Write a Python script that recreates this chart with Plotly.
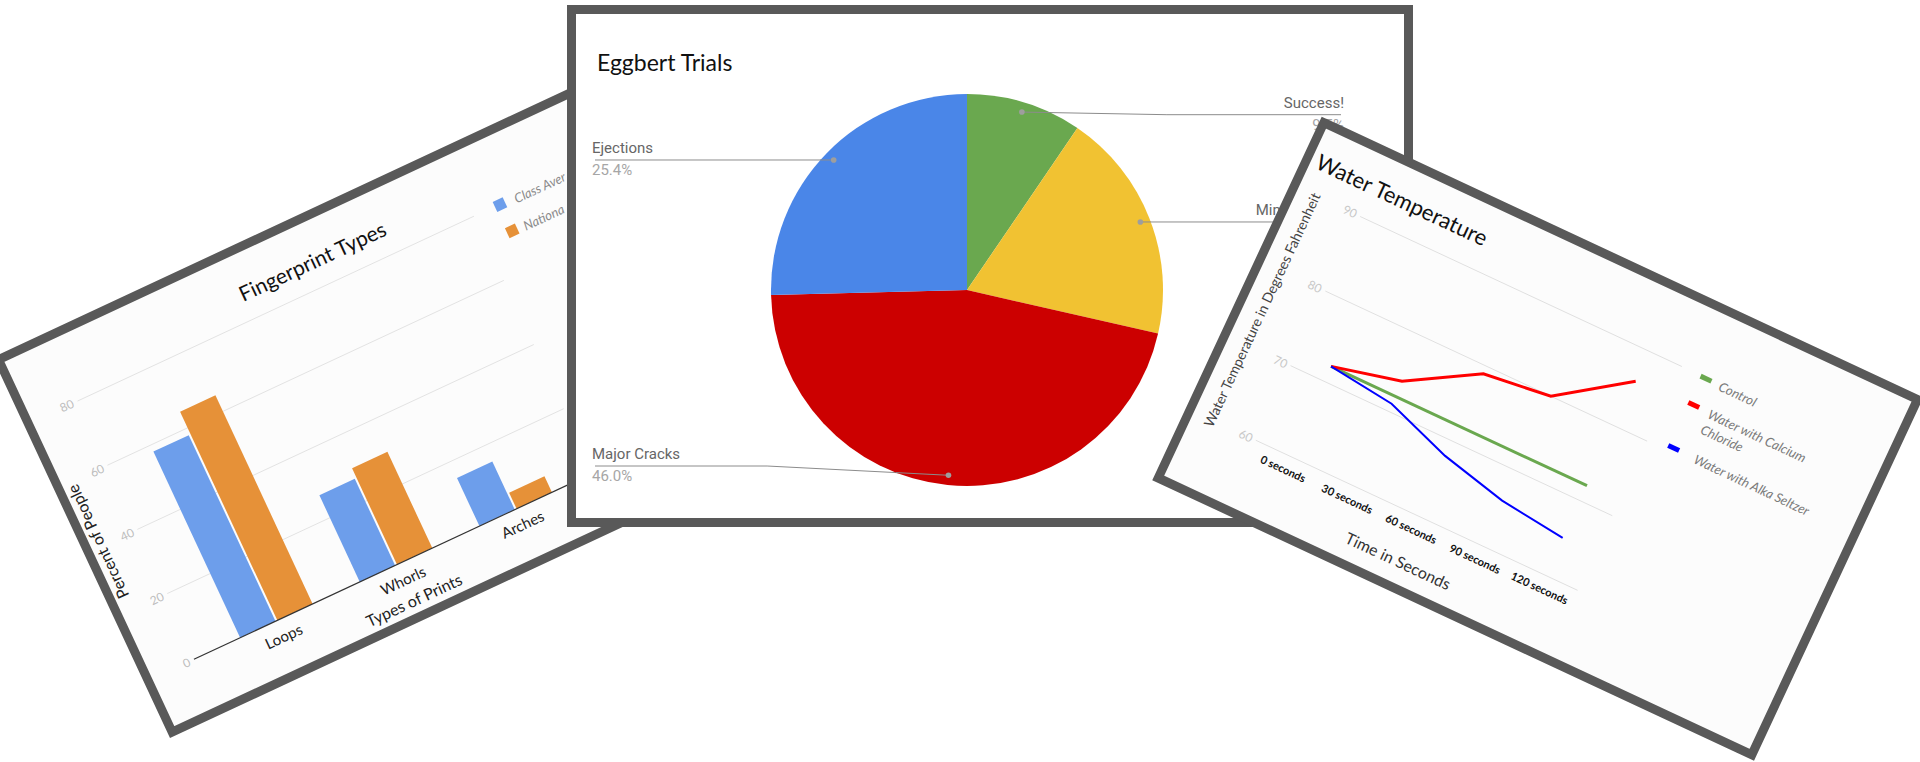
import math
import plotly.graph_objects as go

FIG_W, FIG_H = 1920, 762
COMIC = "Comic Sans MS, Lato, sans-serif"
ROBOTO = "Roboto, sans-serif"

# ---------------- data ----------------
PIE_TITLE = "Eggbert Trials"
PIE_LABELS = ["Success!", "Minor Cracks", "Major Cracks", "Ejections"]
PIE_VALUES = [6, 12, 29, 16]
PIE_COLORS = ["#6aa84f", "#f1c232", "#cc0000", "#4a86e8"]

BAR_TITLE = "Fingerprint Types"
BAR_CATEGORIES = ["Loops", "Whorls", "Arches"]
BAR_SERIES = ["Class Average", "National Average"]
CLASS_AVG = [58, 27, 15]
NATIONAL_AVG = [65, 30, 5]
BAR_COLORS = ["#6d9eeb", "#e69138"]
BAR_TICKS = [0, 20, 40, 60, 80]
BAR_XTITLE = "Types of Prints"
BAR_YTITLE = "Percent of People"

LINE_TITLE = "Water Temperature"
LINE_CATEGORIES = ["0 seconds", "30 seconds", "60 seconds", "90 seconds", "120 seconds"]
CONTROL = [72, 72, 72, 72, 72]
CALCIUM = [72, 74, 79, 80, 86]
ALKA = [72, 71, 68, 66, 65]
LINE_SERIES = ["Control", "Water with Calcium Chloride", "Water with Alka Seltzer"]
LINE_LEGEND_TEXT = ["Control", "Water with Calcium<br>Chloride", "Water with Alka Seltzer"]
LINE_COLORS = ["#6aa84f", "#ff0000", "#0000ff"]
LINE_WIDTHS = [3, 3, 2]
LINE_TICKS = [60, 70, 80, 90]
LINE_XTITLE = "Time in Seconds"
LINE_YTITLE = "Water Temperature in Degrees Fahrenheit"


# ---------------- card geometry (rotated frames) ----------------
class Card:
    def __init__(self, ox, oy, angle, w, h):
        a = math.radians(angle)
        self.ox, self.oy, self.angle, self.w, self.h = ox, oy, angle, w, h
        self.ux, self.uy = math.cos(a), math.sin(a)
        self.vx, self.vy = -math.sin(a), math.cos(a)

    def pt(self, u, v):
        return (self.ox + u * self.ux + v * self.vx, self.oy + u * self.uy + v * self.vy)

    def poly(self, pts):
        out = [self.pt(u, v) for u, v in pts]
        return [p[0] for p in out], [p[1] for p in out]


LEFT = Card(-7.5, 357.4, -25, 662, 420)
CENTER = Card(567, 5, 0, 846, 522)
RIGHT = Card(1321.7, 116.7, 25, 664, 401)

BORDER = "#595959"
BORDER_W = 9

traces, shapes, annotations = [], [], []


def card_frame(card, bg):
    i = BORDER_W / 2
    pts = [(i, i), (card.w - i, i), (card.w - i, card.h - i), (i, card.h - i), (i, i), (card.w - i, i)]
    xs, ys = card.poly(pts)
    traces.append(go.Scatter(x=xs, y=ys, mode="lines", fill="toself", fillcolor=bg,
                             line=dict(color=BORDER, width=BORDER_W), hoverinfo="skip"))


def rtext(card, u, v, text, size, color, extra=0, family=COMIC):
    x, y = card.pt(u, v)
    annotations.append(dict(x=x, y=y, xref="x", yref="y", text=text, showarrow=False,
                            textangle=card.angle + extra, xanchor="center", yanchor="middle",
                            font=dict(size=size, color=color, family=family)))


def polyline(card, pts, color, width):
    xs, ys = card.poly(pts)
    traces.append(go.Scatter(x=xs, y=ys, mode="lines", line=dict(color=color, width=width),
                             hoverinfo="skip"))


# ---------------- left card: bar chart ----------------
BAR_V0, BAR_PX = 358.7, 3.54
GRID_U0, GRID_U1 = 58.6, 496


def bar_v(val):
    return BAR_V0 - val * BAR_PX


def bar_u(i):
    return 146 + 132 * i


card_frame(LEFT, "#fcfcfc")
gx, gy = [], []
for t in BAR_TICKS[1:]:
    xs, ys = LEFT.poly([(GRID_U0, bar_v(t)), (GRID_U1, bar_v(t))])
    gx += xs + [None]
    gy += ys + [None]
traces.append(go.Scatter(x=gx, y=gy, mode="lines", line=dict(color="#e3e3e3", width=1), hoverinfo="skip"))

for k, vals in enumerate([CLASS_AVG, NATIONAL_AVG]):
    for i, val in enumerate(vals):
        c = bar_u(i)
        u0, u1 = (c - 40, c - 1) if k == 0 else (c + 1, c + 40)
        xs, ys = LEFT.poly([(u0, bar_v(0)), (u1, bar_v(0)), (u1, bar_v(val)), (u0, bar_v(val)), (u0, bar_v(0))])
        traces.append(go.Scatter(x=xs, y=ys, mode="lines", fill="toself", fillcolor=BAR_COLORS[k],
                                 line=dict(width=0, color=BAR_COLORS[k]), hoverinfo="skip"))

polyline(LEFT, [(55, bar_v(0)), (GRID_U1, bar_v(0))], "#333333", 1.2)

for t in BAR_TICKS:
    rtext(LEFT, 47, bar_v(t), str(t), 12, "#bdbdbd")
for i, cat in enumerate(BAR_CATEGORIES):
    rtext(LEFT, bar_u(i), 375.5, cat, 15, "#222222")
rtext(LEFT, 280, 398, BAR_XTITLE, 16, "#222222")
rtext(LEFT, 17, 212, BAR_YTITLE, 16, "#222222", extra=-90)
rtext(LEFT, 331, 47, BAR_TITLE, 21, "#111111")

# legend (partly hidden behind the centre card)
LEG_U, LEG_TXT_U = 524.5, 537
CENTER_LEFT_X = CENTER.ox
CHAR_W = 6.0
for k, (name, vpos) in enumerate(zip(BAR_SERIES, [76, 105])):
    s = 5.5
    xs, ys = LEFT.poly([(LEG_U - s, vpos - s), (LEG_U + s, vpos - s), (LEG_U + s, vpos + s), (LEG_U - s, vpos + s), (LEG_U - s, vpos - s)])
    traces.append(go.Scatter(x=xs, y=ys, mode="lines", fill="toself", fillcolor=BAR_COLORS[k],
                             line=dict(width=0, color=BAR_COLORS[k]), hoverinfo="skip"))
    sx, _ = LEFT.pt(LEG_TXT_U, vpos)
    avail = (CENTER_LEFT_X - sx) / LEFT.ux
    nchar = max(1, int(avail / CHAR_W))
    shown = name[:nchar].rstrip()
    wtxt = len(shown) * 6.3
    rtext(LEFT, LEG_TXT_U + wtxt / 2, vpos + 1, "<i>" + shown + "</i>", 13, "#8a8a8a")

# ---------------- centre card: pie ----------------
card_frame(CENTER, "#ffffff")
PIE_CX, PIE_CY, PIE_R = 967, 290, 196
LABEL_LEFT_X, LABEL_RIGHT_X = 595, 1341
LINE_Y_MIN, LINE_Y_MAX = 114.7, 466

total = sum(PIE_VALUES)
cum = 0
for lab, val in zip(PIE_LABELS, PIE_VALUES):
    mid = math.radians((cum + val / 2) / total * 360)
    cum += val
    dxn, dyn = math.sin(mid), -math.cos(mid)
    dot = (PIE_CX + 0.95 * PIE_R * dxn, PIE_CY + 0.95 * PIE_R * dyn)
    right = dxn > 0
    ly = min(max(dot[1], LINE_Y_MIN), LINE_Y_MAX)
    bend_x = PIE_CX + (1.02 * PIE_R if right else -1.02 * PIE_R)
    end_x = LABEL_RIGHT_X if right else LABEL_LEFT_X
    traces.append(go.Scatter(x=[end_x, bend_x, dot[0]], y=[ly, ly, dot[1]], mode="lines",
                             line=dict(color="#8c8c8c", width=1), hoverinfo="skip"))
    lo, hi = 0.0, 1.0
    for _ in range(40):
        m = (lo + hi) / 2
        px = bend_x + m * (dot[0] - bend_x)
        py = ly + m * (dot[1] - ly)
        if math.hypot(px - PIE_CX, py - PIE_CY) > PIE_R:
            lo = m
        else:
            hi = m
    rx = bend_x + lo * (dot[0] - bend_x)
    ry = ly + lo * (dot[1] - ly)
    shapes.append(dict(type="line", xref="x", yref="y", x0=rx, y0=ry, x1=dot[0], y1=dot[1],
                       layer="above", line=dict(color="#8c8c8c", width=1)))
    shapes.append(dict(type="circle", xref="x", yref="y", x0=dot[0] - 2.8, x1=dot[0] + 2.8,
                       y0=dot[1] - 2.8, y1=dot[1] + 2.8, layer="above",
                       fillcolor="#9e9e9e", line=dict(width=0)))
    pos = "middle left" if right else "middle right"
    tx = end_x + (3 if right else -3)
    traces.append(go.Scatter(x=[tx], y=[ly - 10.5], mode="text", text=[lab], textposition=pos,
                             textfont=dict(family=ROBOTO, size=15, color="#666666"), hoverinfo="skip"))
    traces.append(go.Scatter(x=[tx], y=[ly + 11.7], mode="text", text=[f"{val / total * 100:.1f}%"],
                             textposition=pos,
                             textfont=dict(family=ROBOTO, size=15, color="#a6a6a6"), hoverinfo="skip"))

annotations.append(dict(x=595, y=62, xref="x", yref="y", text=PIE_TITLE, showarrow=False,
                        xanchor="left", yanchor="middle",
                        font=dict(size=23, color="#111111", family=COMIC)))

# ---------------- right card: line chart ----------------
LV60, LPX = 321.1, 8.23
LGRID_U0, LGRID_U1 = 77, 432


def line_v(val):
    return LV60 - (val - LINE_TICKS[0]) * LPX


def line_u(i):
    return 114 + 70.6 * i


card_frame(RIGHT, "#fcfcfc")
gx, gy = [], []
for t in LINE_TICKS:
    xs, ys = RIGHT.poly([(LGRID_U0, line_v(t)), (LGRID_U1, line_v(t))])
    gx += xs + [None]
    gy += ys + [None]
traces.append(go.Scatter(x=gx, y=gy, mode="lines", line=dict(color="#e0e0e0", width=1), hoverinfo="skip"))

for vals, color, w in zip([CONTROL, CALCIUM, ALKA], LINE_COLORS, LINE_WIDTHS):
    xs, ys = RIGHT.poly([(line_u(i), line_v(v)) for i, v in enumerate(vals)])
    traces.append(go.Scatter(x=xs, y=ys, mode="lines", line=dict(color=color, width=w), hoverinfo="skip"))

for t in LINE_TICKS:
    rtext(RIGHT, 66, line_v(t), str(t), 12, "#c8c8c8")
for i, cat in enumerate(LINE_CATEGORIES):
    rtext(RIGHT, line_u(i), 335, "<b>" + cat + "</b>", 11, "#111111")
rtext(RIGHT, 257, 370, LINE_XTITLE, 16, "#333333")
rtext(RIGHT, 27, 200, LINE_YTITLE, 14, "#444444", extra=-90)
rtext(RIGHT, 108, 41, LINE_TITLE, 22, "#111111")

LLEG_U0, LLEG_U1, LLEG_TXT_U = 453, 465, 472
for color, txt, vpos in zip(LINE_COLORS, LINE_LEGEND_TEXT, [75, 114, 151.5]):
    mv = vpos if "<br>" not in txt else vpos - 10
    polyline(RIGHT, [(LLEG_U0, mv), (LLEG_U1, mv)], color, 5)
    longest = max(len(p) for p in txt.split("<br>"))
    wtxt = longest * 6.4
    x, y = RIGHT.pt(LLEG_TXT_U + wtxt / 2, vpos)
    annotations.append(dict(x=x, y=y, xref="x", yref="y", text="<i>" + txt + "</i>", showarrow=False,
                            textangle=RIGHT.angle, xanchor="center", yanchor="middle", align="left",
                            font=dict(size=13, color="#7a7a7a", family=COMIC)))

# ---------------- figure ----------------
pie = go.Pie(labels=PIE_LABELS, values=PIE_VALUES, sort=False, direction="clockwise", rotation=0,
             marker=dict(colors=PIE_COLORS, line=dict(width=0)), textinfo="none", hoverinfo="skip",
             domain=dict(x=[(PIE_CX - PIE_R) / FIG_W, (PIE_CX + PIE_R) / FIG_W],
                         y=[1 - (PIE_CY + PIE_R) / FIG_H, 1 - (PIE_CY - PIE_R) / FIG_H]),
             showlegend=False)

fig = go.Figure(data=traces + [pie])
fig.update_layout(
    width=FIG_W, height=FIG_H, margin=dict(l=0, r=0, t=0, b=0),
    paper_bgcolor="#ffffff", plot_bgcolor="rgba(0,0,0,0)",
    showlegend=False, hovermode=False,
    xaxis=dict(range=[0, FIG_W], visible=False, fixedrange=True, domain=[0, 1]),
    yaxis=dict(range=[FIG_H, 0], visible=False, fixedrange=True, domain=[0, 1]),
    shapes=shapes, annotations=annotations,
)
fig.write_html("out.html", config={"displayModeBar": False},
               post_script="document.body.style.margin='0';document.body.style.overflow='hidden';")
